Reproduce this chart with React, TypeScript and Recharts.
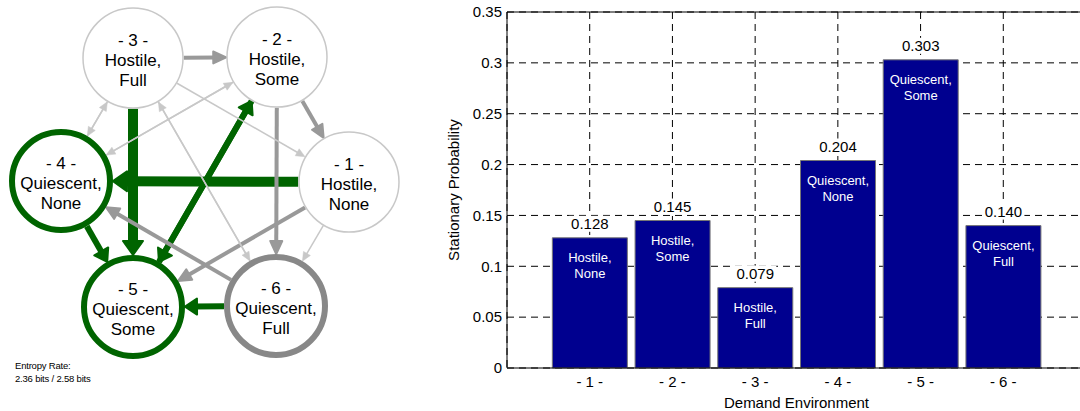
import {
  ScatterChart,
  Scatter,
  BarChart,
  Bar,
  XAxis,
  YAxis,
  CartesianGrid,
  ReferenceLine,
  LabelList
} from "recharts";

const FONT = "'Liberation Sans', Arial, sans-serif";

// network: states and their layout
const nodeIds = [1, 2, 3, 4, 5, 6];
const nodeX = [349, 277, 133, 61, 133, 276];
const nodeY = [182, 57, 58, 181, 307, 306];
const nodeState = ["Hostile,", "Hostile,", "Hostile,", "Quiescent,", "Quiescent,", "Quiescent,"];
const nodeLevel = ["None", "Some", "Full", "None", "Some", "Full"];
const nodeRing = ["light", "light", "light", "green", "green", "gray"];

// transitions
const edgeFrom = [3, 1, 2, 5, 4, 6, 3, 2, 2, 6, 1, 3, 4, 2, 4, 3, 3, 6, 1];
const edgeTo = [5, 4, 5, 2, 5, 5, 2, 1, 6, 4, 5, 4, 3, 4, 2, 1, 6, 3, 6];
const edgeKind = [
  "heavy", "heavy", "green", "green", "green", "green",
  "gray", "gray", "gray", "gray", "gray",
  "light", "light", "light", "light", "light", "light", "light", "light"
];

// stationary distribution
const envIds = [1, 2, 3, 4, 5, 6];
const stationary = [0.128, 0.145, 0.079, 0.204, 0.303, 0.140];
const yTicks = [0, 0.05, 0.1, 0.15, 0.2, 0.25, 0.3, 0.35];

const ringStyle: any = {
  light: { stroke: "#c8c8c8", width: 1.5, r: 50 },
  green: { stroke: "#006400", width: 6, r: 49 },
  gray: { stroke: "#888888", width: 6, r: 49 }
};

const edgeStyle: any = {
  heavy: { stroke: "#006400", width: 10, len: 14, half: 10 },
  green: { stroke: "#006400", width: 6, len: 12, half: 8 },
  gray: { stroke: "#999999", width: 4, len: 13, half: 6 },
  light: { stroke: "#c8c8c8", width: 1.5, len: 9, half: 4 }
};

const nodes = nodeIds.map((id, i) => ({
  id,
  x: nodeX[i],
  y: nodeY[i],
  state: nodeState[i],
  level: nodeLevel[i],
  ring: nodeRing[i]
}));

function outerR(i: number) {
  const s = ringStyle[nodeRing[i]];
  return s.r + s.width / 2;
}

const edges = edgeFrom.map((f, k) => {
  const a = nodeIds.indexOf(f);
  const b = nodeIds.indexOf(edgeTo[k]);
  const dx = nodeX[b] - nodeX[a];
  const dy = nodeY[b] - nodeY[a];
  const d = Math.sqrt(dx * dx + dy * dy);
  const ux = dx / d;
  const uy = dy / d;
  const r0 = outerR(a);
  const r1 = outerR(b);
  return {
    kind: edgeKind[k],
    x1: nodeX[a] + ux * r0,
    y1: nodeY[a] + uy * r0,
    x2: nodeX[b] - ux * r1,
    y2: nodeY[b] - uy * r1
  };
});

const bars = envIds.map((id, i) => ({
  env: id,
  p: stationary[i],
  state: nodeState[i],
  level: nodeLevel[i]
}));

function ArrowLine(props: any) {
  const { x1, y1, x2, y2, kind } = props;
  const s = edgeStyle[kind];
  const dx = x2 - x1;
  const dy = y2 - y1;
  const d = Math.sqrt(dx * dx + dy * dy) || 1;
  const ux = dx / d;
  const uy = dy / d;
  const bx = x2 - ux * s.len;
  const by = y2 - uy * s.len;
  const pts = [
    [x2, y2],
    [bx - uy * s.half, by + ux * s.half],
    [bx + uy * s.half, by - ux * s.half]
  ]
    .map((p) => p.join(","))
    .join(" ");
  return (
    <g>
      <line
        x1={x1}
        y1={y1}
        x2={bx + ux * 2}
        y2={by + uy * 2}
        stroke={s.stroke}
        strokeWidth={s.width}
      />
      <polygon points={pts} fill={s.stroke} stroke={s.stroke} strokeLinejoin="round" strokeWidth={kind === "light" ? 0.5 : 2} />
    </g>
  );
}

function NodeShape(props: any) {
  const { cx, cy, payload } = props;
  const s = ringStyle[payload.ring];
  return (
    <g>
      <circle cx={cx} cy={cy} r={s.r} fill="#fff" stroke={s.stroke} strokeWidth={s.width} />
      <text x={cx} y={cy} textAnchor="middle" fontFamily={FONT} fontSize={17} fill="#000">
        <tspan x={cx} y={cy - 12}>- {payload.id} -</tspan>
        <tspan x={cx} y={cy + 8}>{payload.state}</tspan>
        <tspan x={cx} y={cy + 28}>{payload.level}</tspan>
      </text>
    </g>
  );
}

function InsideLabel(props: any) {
  const { x, y, width, value, line } = props;
  return (
    <text
      x={x + width / 2}
      y={y + (line === 0 ? 24 : 40)}
      textAnchor="middle"
      fontFamily={FONT}
      fontSize={13}
      fill="#fff"
    >
      {value}
    </text>
  );
}

function ValueLabel(props: any) {
  const { x, y, width, value } = props;
  const cx = x + width / 2;
  return (
    <g>
      <rect x={cx - 21} y={y - 22} width={42} height={16} fill="#fff" />
      <text x={cx} y={y - 9} textAnchor="middle" fontFamily={FONT} fontSize={15} fill="#000">
        {Number(value).toFixed(3)}
      </text>
    </g>
  );
}

function App() {
  return (
    <div
      style={{
        position: "fixed",
        left: 0,
        top: 0,
        width: 1080,
        height: 411,
        overflow: "hidden",
        background: "#fff",
        fontFamily: FONT
      }}
    >
      <div style={{ position: "absolute", left: 0, top: 0 }}>
        <ScatterChart width={420} height={411} margin={{ top: 0, right: 0, bottom: 0, left: 0 }}>
          <XAxis type="number" dataKey="x" domain={[0, 420]} hide />
          <YAxis type="number" dataKey="y" domain={[0, 411]} reversed hide />
          {edges.map((e, i) => (
            <ReferenceLine
              key={i}
              segment={[
                { x: e.x1, y: e.y1 },
                { x: e.x2, y: e.y2 }
              ]}
              ifOverflow="visible"
              shape={(p: any) => <ArrowLine {...p} kind={e.kind} />}
            />
          ))}
          <Scatter data={nodes} shape={(p: any) => <NodeShape {...p} />} isAnimationActive={false} />
        </ScatterChart>
      </div>

      <div
        style={{
          position: "absolute",
          left: 15,
          top: 359,
          fontSize: 9.5,
          lineHeight: "13px",
          letterSpacing: -0.2,
          color: "#000"
        }}
      >
        Entropy Rate:
        <br />
        2.36 bits / 2.58 bits
      </div>

      <div style={{ position: "absolute", left: 440, top: 0 }}>
        <BarChart width={660} height={411} data={bars} margin={{ top: 12, right: 14, bottom: 0, left: 0 }}>
          <CartesianGrid stroke="#000" strokeDasharray="7 5" />
          <XAxis
            type="number"
            dataKey="env"
            domain={[0, 7]}
            ticks={envIds}
            tickFormatter={(v: number) => `- ${v} -`}
            tick={{ fill: "#000", fontSize: 15, fontFamily: FONT }}
            tickLine={false}
            axisLine={{ stroke: "#000" }}
            height={43}
            label={{
              value: "Demand Environment",
              position: "center",
              dy: 13,
              fill: "#000",
              fontSize: 15,
              fontFamily: FONT
            }}
          />
          <YAxis
            type="number"
            domain={[0, 0.35]}
            ticks={yTicks}
            tickFormatter={(v: number) => (v === 0 ? "0" : String(+v.toFixed(2)))}
            tick={{ fill: "#000", fontSize: 15, fontFamily: FONT }}
            tickLine={false}
            tickSize={3}
            tickMargin={2}
            axisLine={{ stroke: "#000" }}
            width={67}
            label={{
              value: "Stationary Probability",
              angle: -90,
              position: "center",
              dx: -20,
              fill: "#000",
              fontSize: 15,
              fontFamily: FONT
            }}
          />
          <ReferenceLine y={0.35} stroke="#000" strokeWidth={1} />
          <Bar dataKey="p" barSize={75} fill="#00008f" stroke="#777" strokeWidth={1} isAnimationActive={false}>
            <LabelList dataKey="p" content={(p: any) => <ValueLabel {...p} />} />
            <LabelList dataKey="state" content={(p: any) => <InsideLabel {...p} line={0} />} />
            <LabelList dataKey="level" content={(p: any) => <InsideLabel {...p} line={1} />} />
          </Bar>
        </BarChart>
      </div>
    </div>
  );
}

export default App;
